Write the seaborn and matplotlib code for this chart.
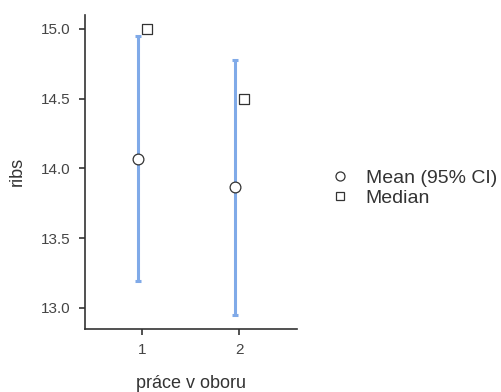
import numpy as np
import pandas as pd
import matplotlib
matplotlib.use("Agg")
import matplotlib.pyplot as plt
import seaborn as sns
from matplotlib.lines import Line2D

groups = ["1", "2"]
means = [14.07, 13.87]
ci_low = [13.19, 12.95]
ci_high = [14.95, 14.78]
medians = [15.0, 14.5]
y_ticks = [13.0, 13.5, 14.0, 14.5, 15.0]

sns.set_theme(style="ticks")
plt.rcParams['font.family'] = ['Liberation Sans', 'DejaVu Sans']

df = pd.DataFrame({"group": groups, "mean": means, "lo": ci_low,
                   "hi": ci_high, "median": medians})
pos = np.arange(len(groups))
dodge = 0.045
df["xm"] = pos - dodge
df["xd"] = pos + dodge

fig = plt.figure(figsize=(5.02, 3.92), dpi=100)
ax = fig.add_axes([0.169, 0.161, 0.423, 0.801])

ax.errorbar(df["xm"], df["mean"],
            yerr=[df["mean"] - df["lo"], df["hi"] - df["mean"]],
            fmt="none", ecolor="#80aae8", elinewidth=2.2, capsize=2.2,
            capthick=2.2, zorder=2)
sns.scatterplot(data=df, x="xm", y="mean", ax=ax, marker="o", s=60,
                facecolor="white", edgecolor="#333333", linewidth=0.9,
                zorder=3, legend=False)
sns.scatterplot(data=df, x="xd", y="median", ax=ax, marker="s", s=50,
                facecolor="white", edgecolor="#333333", linewidth=0.9,
                zorder=3, legend=False)

ax.set_xlim(-0.59, 1.595)
ax.set_ylim(12.85, 15.1)
ax.set_xticks(pos)
ax.set_xticklabels(groups)
ax.set_yticks(y_ticks)
ax.set_yticklabels([f"{v:.1f}" for v in y_ticks])
ax.tick_params(axis="both", labelsize=11, colors="#333333",
               length=4, width=1.2, labelcolor="#444444", pad=6)
for s in ["left", "bottom"]:
    ax.spines[s].set_color("#333333")
    ax.spines[s].set_linewidth(1.2)
sns.despine(ax=ax)

ax.set_xlabel("práce v oboru", fontsize=13, color="#333333", labelpad=13)
ax.set_ylabel("ribs", fontsize=13, color="#333333", labelpad=11)

handles = [
    Line2D([], [], linestyle="none", marker="o", markersize=6.5,
           markerfacecolor="white", markeredgecolor="#333333", markeredgewidth=0.9),
    Line2D([], [], linestyle="none", marker="s", markersize=5.5,
           markerfacecolor="white", markeredgecolor="#333333", markeredgewidth=0.9),
]
fig.legend(handles, ["Mean (95% CI)", "Median"], loc="center left",
           bbox_to_anchor=(0.62, 0.52), frameon=False, fontsize=14,
           handletextpad=0.7, labelspacing=0.15, handlelength=1.2,
           labelcolor="#333333")

fig.savefig("out.png", dpi=100)
